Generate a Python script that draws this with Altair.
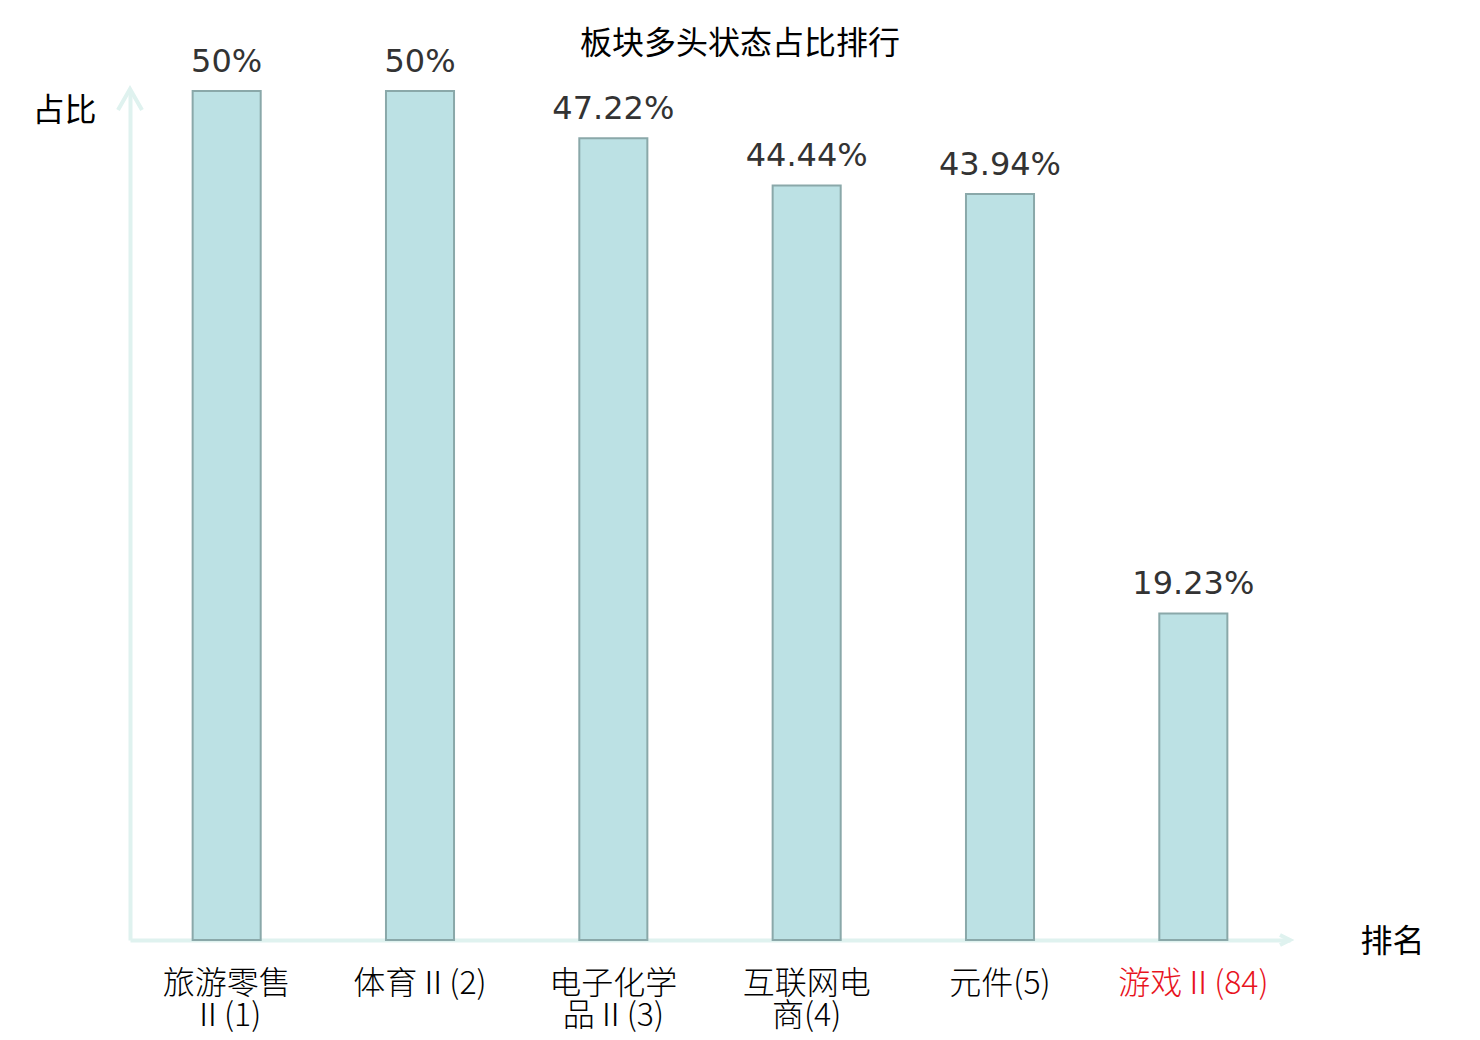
import altair as alt
import pandas as pd

categories = ["旅游零售Ⅱ(1)", "体育Ⅱ(2)", "电子化学品Ⅱ(3)", "互联网电商(4)", "元件(5)", "游戏Ⅱ(84)"]
values = [50, 50, 47.22, 44.44, 43.94, 19.23]
value_labels = ["50%", "50%", "47.22%", "44.44%", "43.94%", "19.23%"]

df = pd.DataFrame({"cat": categories, "val": values, "lab": value_labels})

AXIS_COLOR = "#dff2ef"
CJK = "Noto Sans CJK SC"

x_enc = alt.X(
    "cat:N",
    sort=categories,
    scale=alt.Scale(paddingInner=0.648, paddingOuter=0.324),
    axis=alt.Axis(
        title="排名",
        titleX=1262,
        titleY=1,
        titleAngle=0,
        titleAlign="center",
        titleBaseline="middle",
        titleFont=CJK,
        titleFontSize=32,
        titleFontWeight="normal",
        titleColor="#000000",
        labelAngle=0,
        labelFont=CJK,
        labelFontSize=32,
        labelFontWeight=300,
        labelLineHeight=32,
        labelPadding=28,
        labelColor={"condition": {"test": "datum.value == '游戏Ⅱ(84)'", "value": "#e8141e"}, "value": "#000000"},
        labelExpr="length(datum.label) > 7 ? [substring(datum.label, 0, 4), substring(datum.label, 4)] : datum.label",
        ticks=False,
        domainColor=AXIS_COLOR,
        domainWidth=4,
        grid=False,
    ),
)

y_enc = alt.Y(
    "val:Q",
    scale=alt.Scale(domain=[0, 50], nice=False),
    axis=alt.Axis(
        title="占比",
        titleX=-66,
        titleY=19,
        titleAngle=0,
        titleAlign="center",
        titleBaseline="middle",
        titleFont=CJK,
        titleFontSize=32,
        titleFontWeight="normal",
        titleColor="#000000",
        labels=False,
        ticks=False,
        grid=False,
        domainColor=AXIS_COLOR,
        domainWidth=4,
    ),
)

bars = alt.Chart(df).mark_bar(
    fill="#bce1e4", stroke="#8aa8a9", strokeWidth=2
).encode(x=x_enc, y=y_enc)

texts = alt.Chart(df).mark_text(
    baseline="alphabetic", dy=-19, fontSize=32, font="DejaVu Sans", color="#333333"
).encode(x=alt.X("cat:N", sort=categories), y="val:Q", text="lab:N")

arrow_y = alt.Chart(pd.DataFrame({"a": [0]})).mark_point(
    shape="M-1,1.75L0,0L1,1.75", size=576, filled=False, stroke=AXIS_COLOR, strokeWidth=4, opacity=1
).encode(x=alt.value(0), y=alt.value(-2))

arrow_x = alt.Chart(pd.DataFrame({"a": [0]})).mark_point(
    shape="M-2,-1L0,0L-2,1", size=100, filled=False, stroke=AXIS_COLOR, strokeWidth=4, opacity=1
).encode(x=alt.value(1160), y=alt.value(849))

chart = alt.layer(bars, texts, arrow_y, arrow_x).properties(
    width=1160,
    height=849,
    padding={"left": 122, "top": 83, "right": 182, "bottom": 92},
    autosize=alt.AutoSizeParams(type="none"),
    title=alt.TitleParams(
        text="板块多头状态占比排行",
        font=CJK,
        fontSize=32,
        fontWeight="normal",
        color="#000000",
        anchor="middle",
        dx=30,
        dy=19,
    ),
).configure_view(stroke=None)

chart.save("out.html", embed_options={"renderer": "svg", "actions": False})
